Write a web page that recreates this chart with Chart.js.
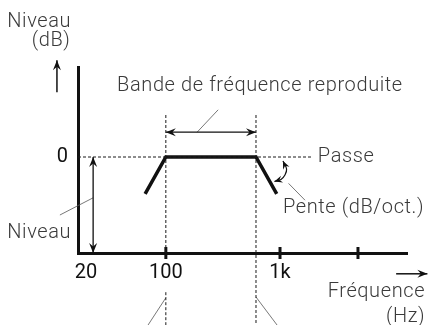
<!DOCTYPE html>
<html>
<head>
<meta charset="utf-8">
<script src="https://cdn.jsdelivr.net/npm/chart.js@4"></script>
<style>
	body { margin: 0; background: #fff; }
	#wrap { width: 428px; height: 325px; }
</style>
</head>
<body>
<div id="wrap"><canvas id="myChart"></canvas></div>
<script>
// schematic units: x runs 0..100 along the frequency axis, y is level with 0 = pass level
const tickPos = [2.4, 26.7, 61.4, 85.1];
const tickLabels = ["20", "100", "1k", ""];
const tickMarks = [26.7, 61.4, 85.1];

const curveX = [20.4, 26.7, 54.1, 60.4];
const curveY = [-4.6, 0, 0, -4.6];

const cutLow = 26.7;
const cutHigh = 54.1;
const passEnd = 71.1;
const floorLevel = -12;
const topLevel = 11.25;

const slopeArcX = [59.7, 61.7, 62.9, 63.4, 62.3];
const slopeArcY = [-3.06, -2.81, -2.25, -1.5, -0.5];

const notes = [
	{ text: "Niveau", x: -2.1, y: 16.3, align: "right" },
	{ text: "(dB)", x: -2.3, y: 13.9, align: "right" },
	{ text: "Bande de fréquence reproduite", x: 55.3, y: 8.25, align: "center" },
	{ text: "Passe", x: 72.9, y: -0.6, align: "left" },
	{ text: "Pente (dB/oct.)", x: 62.3, y: -7, align: "left" },
	{ text: "Niveau", x: -2.1, y: -10.1, align: "right" },
	{ text: "Fréquence", x: 105.5, y: -17.5, align: "right" },
	{ text: "(Hz)", x: 105.5, y: -20.6, align: "right" },
];

const xy = (xs, ys) => xs.map((x, i) => ({ x: x, y: ys[i] }));
const seg = (x1, y1, x2, y2) => [{ x: x1, y: y1 }, { x: x2, y: y2 }];

const ink = "#111";
const grey = "#3a3a3a";

function line(data, extra) {
	return Object.assign({
		data: data,
		borderColor: ink,
		borderWidth: 1,
		pointRadius: 0,
		fill: false,
		clip: false,
		tension: 0,
	}, extra);
}
const dashed = { borderDash: [3, 2], borderColor: "#1a1a1a" };
const leader = { borderColor: "#555", borderWidth: 0.8 };

function head(ctx, tip, from, L, W) {
	const dx = tip.x - from.x, dy = tip.y - from.y;
	const len = Math.hypot(dx, dy) || 1;
	const ux = dx / len, uy = dy / len;
	ctx.beginPath();
	ctx.moveTo(tip.x, tip.y);
	ctx.lineTo(tip.x - ux * L + uy * W, tip.y - uy * L - ux * W);
	ctx.lineTo(tip.x - ux * L * 0.65, tip.y - uy * L * 0.65);
	ctx.lineTo(tip.x - ux * L - uy * W, tip.y - uy * L + ux * W);
	ctx.closePath();
	ctx.fill();
}

const arrowPlugin = {
	id: "arrows",
	afterDatasetsDraw(chart) {
		const ctx = chart.ctx;
		chart.data.datasets.forEach((ds, i) => {
			if (!ds.arrows) return;
			const pts = chart.getDatasetMeta(i).data;
			const L = ds.headLength || 10, W = ds.headWidth || 4;
			ctx.save();
			ctx.fillStyle = ds.borderColor;
			if (ds.arrows.includes("start")) head(ctx, pts[0], pts[1], L, W);
			if (ds.arrows.includes("end")) head(ctx, pts[pts.length - 1], pts[pts.length - 2], L, W);
			ctx.restore();
		});
	},
};

const notesPlugin = {
	id: "notes",
	afterDraw(chart) {
		const ctx = chart.ctx;
		const sx = chart.scales.x, sy = chart.scales.y;
		ctx.save();
		ctx.font = "300 20px Roboto";
		ctx.letterSpacing = "0.6px";
		ctx.fillStyle = grey;
		ctx.textBaseline = "alphabetic";
		notes.forEach((n) => {
			ctx.textAlign = n.align;
			ctx.fillText(n.text, sx.getPixelForValue(n.x), sy.getPixelForValue(n.y));
		});
		ctx.restore();
	},
};

const ctx = document.getElementById("myChart");

const myChart = new Chart(ctx, {
	type: "line",
	data: {
		datasets: [
			line(seg(0, 0, passEnd, 0), dashed),
			line(seg(cutLow, 5.25, cutLow, floorLevel), dashed),
			line(seg(cutLow, -16.9, cutLow, -21), dashed),
			line(seg(cutHigh, 5.25, cutHigh, -21), dashed),
			line(xy(curveX, curveY), { borderWidth: 3.5, borderCapStyle: "butt", borderJoinStyle: "miter" }),
			line(seg(cutLow, 3.1, cutHigh, 3.1), { borderWidth: 1.3, arrows: ["start", "end"] }),
			line(seg(4.6, 0, 4.6, floorLevel), { borderWidth: 1.3, arrows: ["start", "end"] }),
			line(seg(-6.4, 8.1, -6.4, 12.1), { borderWidth: 1.5, arrows: ["end"] }),
			line(seg(96.7, -14.6, 106.2, -14.6), { borderWidth: 1.5, arrows: ["end"] }),
			line(xy(slopeArcX, slopeArcY), { borderWidth: 1.2, tension: 0.4, arrows: ["start", "end"], headLength: 8, headWidth: 3.5 }),
			line(seg(36.2, 3.1, 42.6, 5.9), leader),
			line(seg(64.0, -3.3, 69.0, -5.4), leader),
			line(seg(-5.5, -7.25, 4.6, -5.1), leader),
			line(seg(cutLow, -17.6, 21.3, -21), leader),
			line(seg(cutHigh, -17.5, 60.5, -21), leader),
			line(tickMarks.map((x) => ({ x: x, y: floorLevel })), {
				showLine: false,
				pointStyle: "line",
				pointRotation: 90,
				pointRadius: 6,
				pointBorderWidth: 3,
				pointBorderColor: ink,
			}),
		],
	},
	options: {
		responsive: true,
		maintainAspectRatio: false,
		animation: false,
		layout: { padding: { top: 67, right: 21, left: 0, bottom: 0 } },
		plugins: { legend: { display: false }, tooltip: { enabled: false } },
		scales: {
			x: {
				type: "linear",
				min: 0,
				max: 100,
				border: { display: true, width: 3, color: ink },
				grid: { display: false, drawTicks: false },
				afterBuildTicks: (s) => { s.ticks = tickPos.map((v) => ({ value: v })); },
				afterFit: (s) => { s.height = 72; },
				ticks: {
					autoSkip: false,
					maxRotation: 0,
					padding: 8,
					color: ink,
					font: { family: "Roboto", size: 20 },
					callback: (v, i) => tickLabels[i],
				},
			},
			y: {
				min: floorLevel,
				max: topLevel,
				border: { display: true, width: 3, color: ink },
				grid: { display: false, drawTicks: false },
				afterBuildTicks: (s) => { s.ticks = [{ value: 0 }]; },
				afterFit: (s) => { s.width = 78; },
				ticks: {
					padding: 10,
					color: ink,
					font: { family: "Roboto", size: 20 },
					callback: () => "0",
				},
			},
		},
	},
	plugins: [arrowPlugin, notesPlugin],
});
</script>
</body>
</html>
